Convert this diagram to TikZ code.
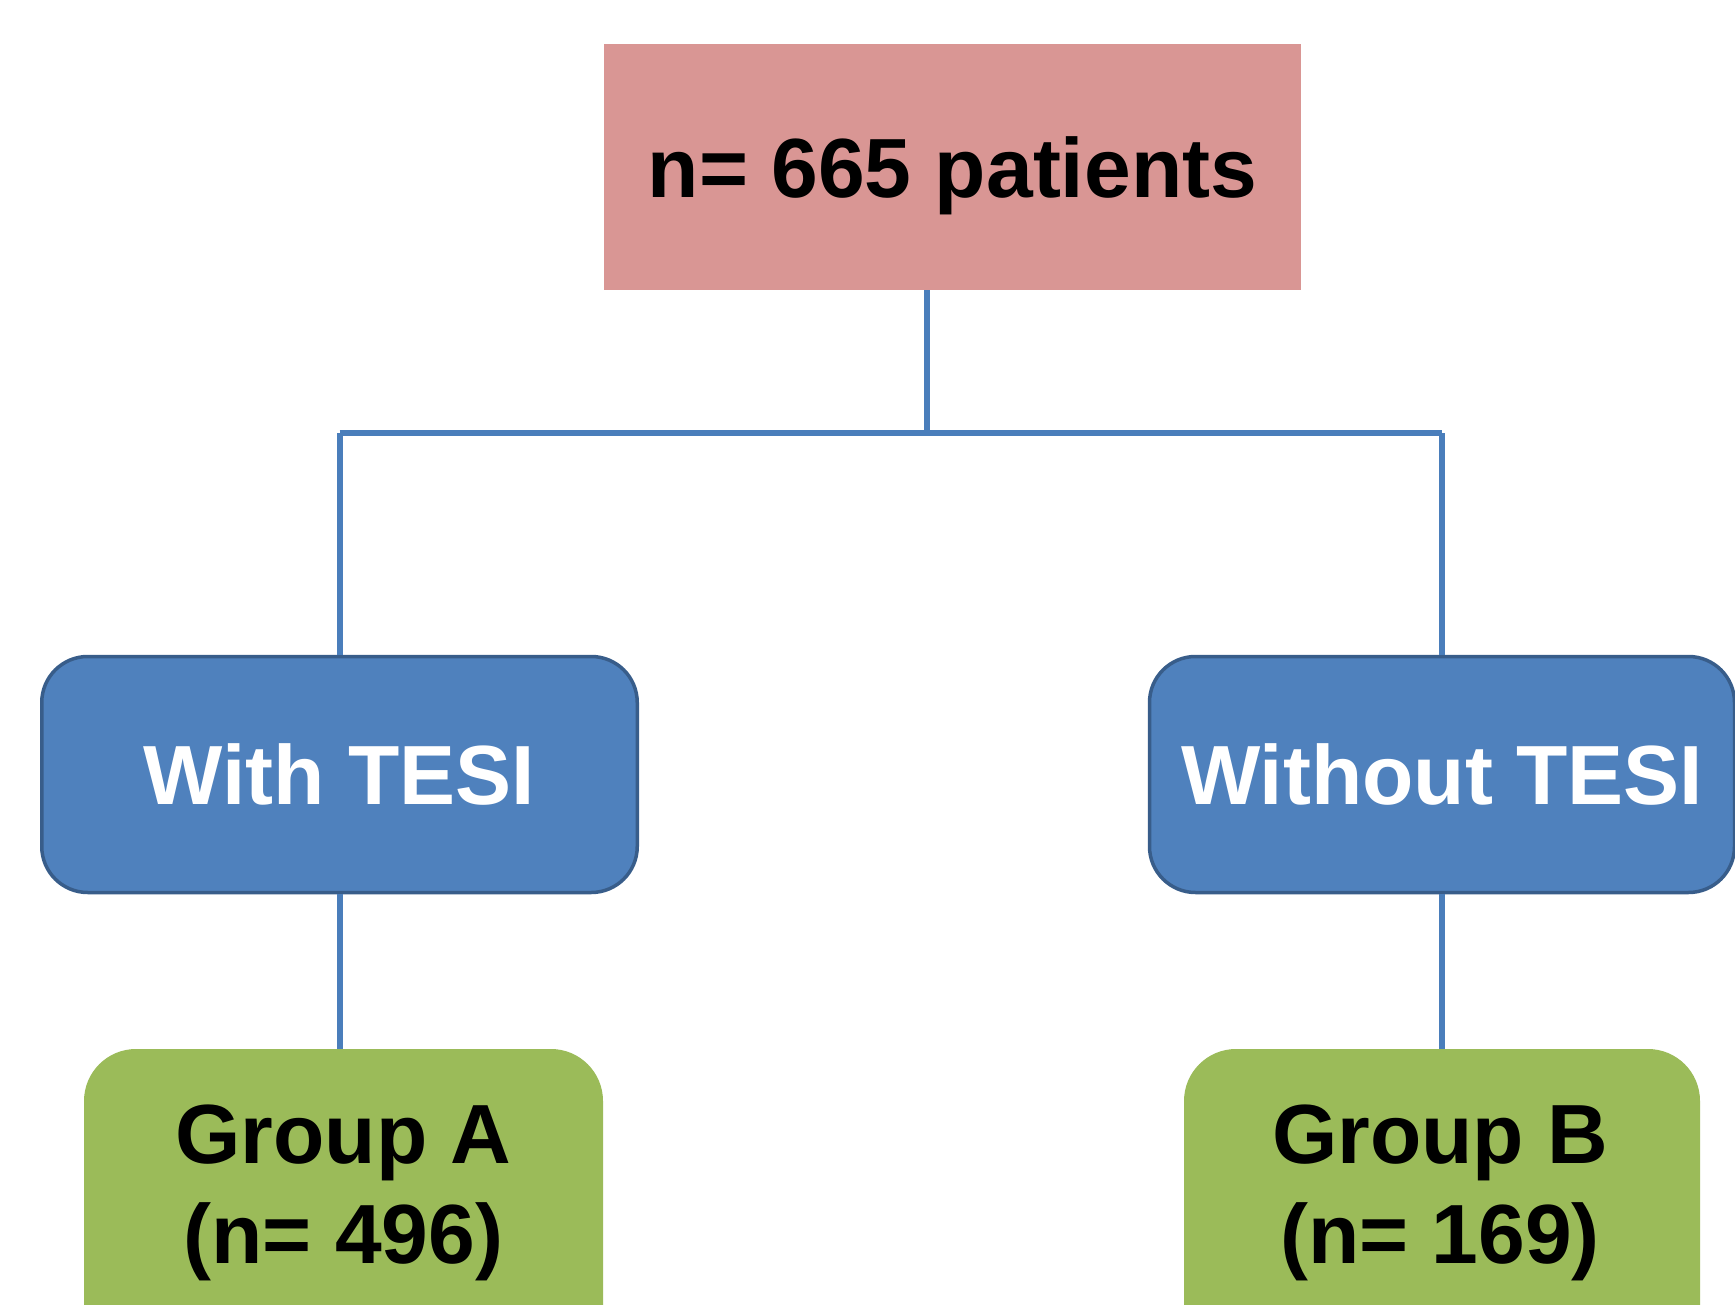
\documentclass[tikz,border=0pt]{standalone}
\usepackage{fontspec}
\setmainfont{Liberation Sans}
\definecolor{pinkbox}{HTML}{D99694}
\definecolor{bluebox}{HTML}{4F81BD}
\definecolor{blueedge}{HTML}{385D8A}
\definecolor{greenbox}{HTML}{9BBB59}
\definecolor{linkblue}{HTML}{4A7EBB}
\begin{document}
\begin{tikzpicture}[x=1pt,y=-1pt,
  bigtext/.style={font=\bfseries\fontsize{84}{100}\selectfont},
  topbox/.style={bigtext, fill=pinkbox, inner sep=0pt, minimum width=697pt, minimum height=246pt, text height=62pt, text depth=0pt},
  bluebx/.style={bigtext, text=white, fill=bluebox, draw=blueedge, line width=3.5pt, rounded corners=46pt, inner sep=0pt, minimum height=236pt},
  greenbx/.style={fill=greenbox, rounded corners=52pt, inner sep=0pt},
  greentext/.style={bigtext, align=center, inner sep=0pt},
  link/.style={draw=linkblue, line width=6pt}
]
\path[use as bounding box, clip] (0,0) rectangle (1735,1305);
\fill[white] (0,0) rectangle (1735,1305);
\node[topbox] (top) at (952.5,167) {n= 665 patients};
\node[bluebx, minimum width=595.5pt] (wl) at (339.5,774.5) {With TESI};
\node[bluebx, minimum width=585pt] (wr) at (1442,774.5) {Without TESI};
\node[greenbx, minimum width=519pt, minimum height=351pt] (ga) at (343.5,1224.5) {};
\node[greenbx, minimum width=516pt, minimum height=351pt] (gb) at (1442,1224.5) {};
\node[greentext] (gat) at (343.5,1193) {Group A\\(n= 496)};
\node[greentext] (gbt) at (1440,1193) {Group B\\(n= 169)};
\coordinate (hub) at (927,433);
\draw[link] (hub |- top.south) -- (hub);
\draw[link] (wl.north |- hub) -- (wr.north |- hub);
\draw[link] (wl.north |- hub) -- (wl.north);
\draw[link] (wr.north |- hub) -- (wr.north);
\draw[link] (wl.south) -- (wl.south |- ga.north);
\draw[link] (wr.south) -- (wr.south |- gb.north);
\end{tikzpicture}
\end{document}
